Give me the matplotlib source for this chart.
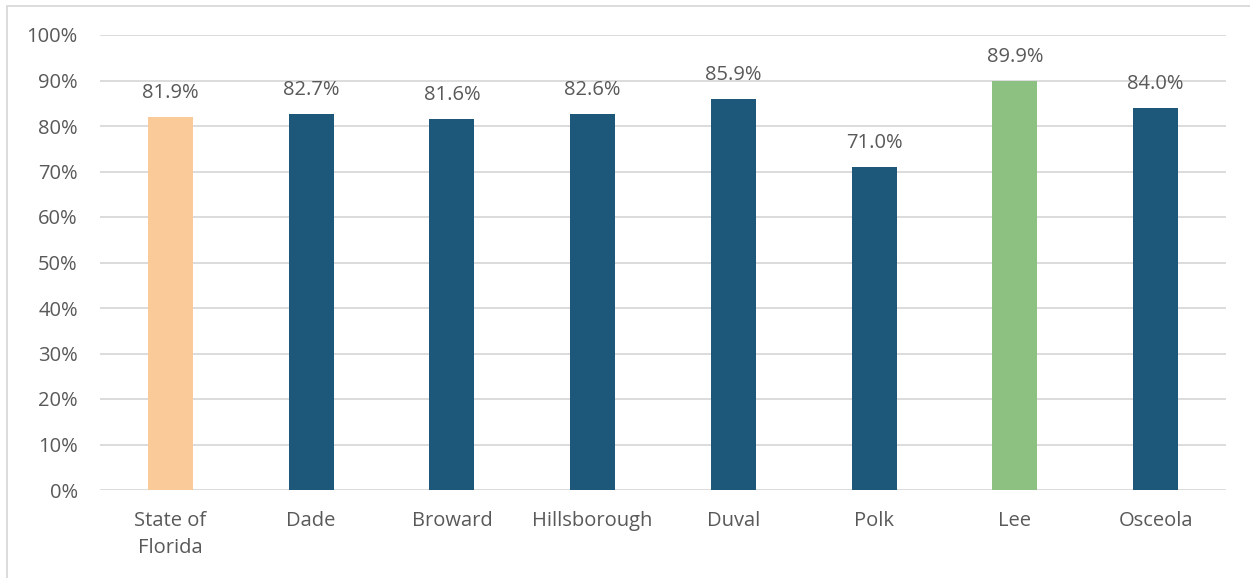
import matplotlib
matplotlib.use("Agg")
import matplotlib.pyplot as plt
from matplotlib.patches import Rectangle

categories = ["State of\nFlorida", "Dade", "Broward", "Hillsborough", "Duval", "Polk", "Lee", "Osceola"]
values = [81.9, 82.7, 81.6, 82.6, 85.9, 71.0, 89.9, 84.0]
colors = ["#FACB98", "#1D5779", "#1D5779", "#1D5779", "#1D5779", "#1D5779", "#8DC182", "#1D5779"]
yticks = list(range(0, 101, 10))

plt.rcParams["font.family"] = ["Open Sans", "DejaVu Sans"]
text_color = "#595959"
fs = 14.5
W, H = 1250, 578
fig = plt.figure(figsize=(W / 100, H / 100), dpi=100)
ax = fig.add_axes([100 / W, 1 - 490 / H, 1126 / W, 455 / H])

x = range(len(categories))
ax.bar(x, values, width=0.32, color=colors, zorder=3)
for xi, v in zip(x, values):
    ax.annotate(f"{v:.1f}%", (xi, v), xytext=(0, 10), textcoords="offset points",
                ha="center", va="bottom", fontsize=fs, color=text_color)

ax.set_xlim(-0.5, len(categories) - 0.5)
ax.set_ylim(0, 100)
ax.set_yticks(yticks)
ax.set_yticklabels([f"{t}%" for t in yticks], fontsize=fs, color=text_color)
ax.set_xticks(list(x))
ax.set_xticklabels(categories, fontsize=fs, color=text_color, linespacing=1.45)
ax.tick_params(axis="y", length=0, pad=16)
ax.tick_params(axis="x", length=0, pad=15)
ax.yaxis.grid(True, color="#D9D9D9", linewidth=1.3, zorder=0)
for s in ax.spines.values():
    s.set_visible(False)

fig.patches.append(Rectangle((7 / W, -0.1), 1.2, 1 - 6 / H + 0.1, transform=fig.transFigure,
                             fill=False, edgecolor="#D9D9D9", linewidth=1.3))
fig.savefig("out.png", dpi=100)
